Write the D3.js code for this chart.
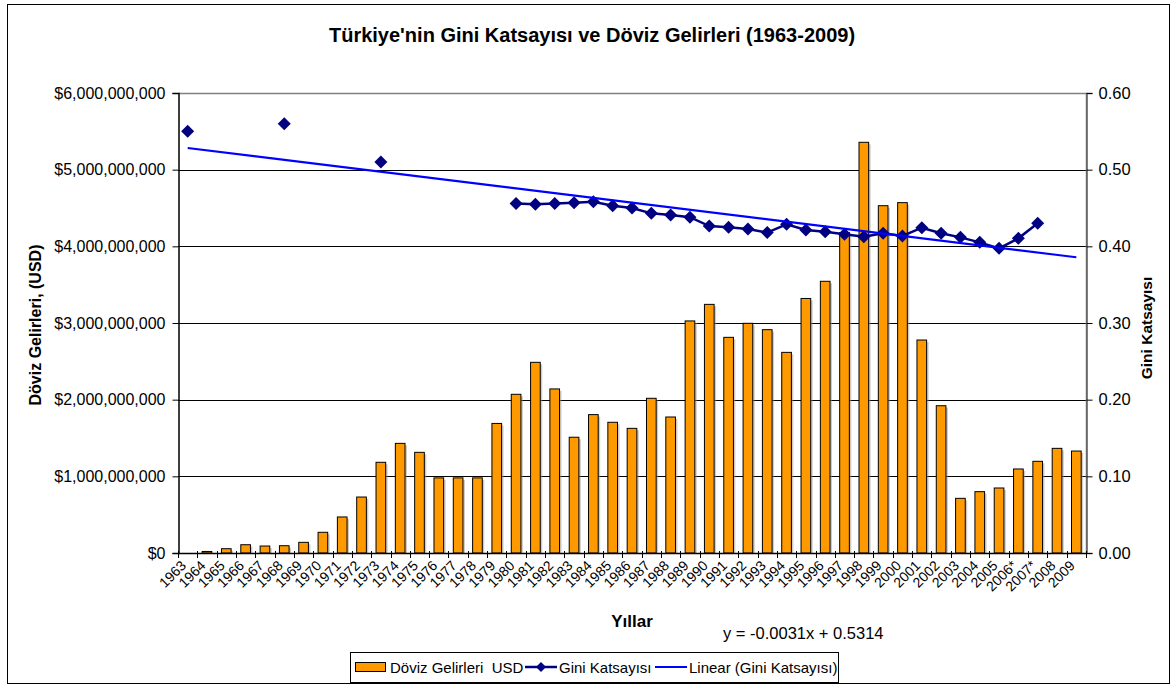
<!DOCTYPE html>
<html>
<head>
<meta charset="utf-8">
<script src="https://cdn.jsdelivr.net/npm/d3@7"></script>
<style>
  body { margin: 0; background: #fff; }
  text { font-family: "Liberation Sans", Arial, sans-serif; fill: #000; }
</style>
</head>
<body>
<script>
var years = ["1963", "1964", "1965", "1966", "1967", "1968", "1969", "1970", "1971", "1972",
    "1973", "1974", "1975", "1976", "1977", "1978", "1979", "1980", "1981", "1982",
    "1983", "1984", "1985", "1986", "1987", "1988", "1989", "1990", "1991", "1992",
    "1993", "1994", "1995", "1996", "1997", "1998", "1999", "2000", "2001", "2002",
    "2003", "2004", "2005", "2006*", "2007*", "2008", "2009"];

// Döviz gelirleri, USD
var doviz = [null, 0.02e9, 0.056e9, 0.108e9, 0.091e9, 0.095e9, 0.139e9, 0.27e9, 0.47e9, 0.73e9,
    1.183e9, 1.43e9, 1.313e9, 0.98e9, 0.98e9, 0.98e9, 1.69e9, 2.07e9, 2.487e9, 2.14e9,
    1.51e9, 1.805e9, 1.705e9, 1.626e9, 2.018e9, 1.774e9, 3.027e9, 3.243e9, 2.813e9, 2.996e9,
    2.913e9, 2.617e9, 3.32e9, 3.544e9, 4.18e9, 5.357e9, 4.53e9, 4.57e9, 2.778e9, 1.921e9,
    0.713e9, 0.8e9, 0.848e9, 1.096e9, 1.196e9, 1.365e9, 1.33e9];

// Gini katsayısı
var gini = [0.55, null, null, null, null, 0.56, null, null, null, null,
    0.51, null, null, null, null, null, null, 0.456, 0.455, 0.456,
    0.457, 0.458, 0.453, 0.45, 0.443, 0.441, 0.438, 0.4265, 0.425, 0.4226,
    0.418, 0.4287, 0.4213, 0.419, 0.4157, 0.4126, 0.417, 0.4135, 0.4243, 0.417,
    0.4117, 0.4052, 0.3974, 0.4104, 0.43, null, null];

// trend line shown on the chart
var trendSlope = -0.0031, trendIntercept = 0.5314;

var leftTicks = [0, 1e9, 2e9, 3e9, 4e9, 5e9, 6e9];
var rightTicks = [0, 0.1, 0.2, 0.3, 0.4, 0.5, 0.6];

var width = 1175, height = 686,
    pL = 178, pR = 1086, pT = 93, pB = 553;

var svg = d3.select("body").append("svg")
    .attr("width", width)
    .attr("height", height);

// outer border
svg.append("rect")
    .attr("x", 7.5).attr("y", 4.5)
    .attr("width", 1162).attr("height", 679)
    .attr("fill", "none")
    .attr("stroke", "#000");

var x = d3.scaleBand()
    .domain(years)
    .range([pL, pR])
    .paddingInner(0.5)
    .paddingOuter(0.25);

var step = x.step();
function cx(d) { return x(d) + x.bandwidth() / 2; }

var yL = d3.scaleLinear().domain([0, 6e9]).range([pB, pT]);
var yR = d3.scaleLinear().domain([0, 0.6]).range([pB, pT]);

// gridlines
svg.append("g").selectAll("line")
    .data(leftTicks.slice(1, -1))
    .enter().append("line")
    .attr("x1", pL).attr("x2", pR)
    .attr("y1", function(d) { return Math.round(yL(d)) + 0.5; })
    .attr("y2", function(d) { return Math.round(yL(d)) + 0.5; })
    .attr("stroke", "#000")
    .attr("stroke-width", 1);

// plot border top / right
svg.append("path")
    .attr("d", "M" + pL + "," + (pT + 0.5) + "H" + (pR + 0.5) + "V" + pB)
    .attr("fill", "none")
    .attr("stroke", "#808080")
    .attr("stroke-width", 1.5);

// bars
var barData = years.map(function(y, i) { return {year: y, v: doviz[i]}; })
    .filter(function(d) { return d.v != null; });

svg.append("g").selectAll("rect")
    .data(barData)
    .enter().append("rect")
    .attr("x", function(d) { return x(d.year) + 2; })
    .attr("y", function(d) { return yL(d.v) + 2; })
    .attr("width", x.bandwidth())
    .attr("height", function(d) { return Math.max(0, pB - yL(d.v) - 2); })
    .attr("fill", "#999")
    .attr("opacity", 0.5);

svg.append("g").selectAll("rect")
    .data(barData)
    .enter().append("rect")
    .attr("x", function(d) { return x(d.year); })
    .attr("y", function(d) { return yL(d.v); })
    .attr("width", x.bandwidth())
    .attr("height", function(d) { return pB - yL(d.v); })
    .attr("fill", "#FF9900")
    .attr("stroke", "#000")
    .attr("stroke-width", 1);

// left axis
var axL = svg.append("g")
    .attr("transform", "translate(" + (pL + 0.5) + ",0)")
    .call(d3.axisLeft(yL).tickValues(leftTicks).tickSize(6).tickPadding(7)
        .tickFormat(function(d) { return "$" + d3.format(",.0f")(d); }));
axL.select(".domain").attr("stroke", "#000").attr("stroke-width", 1.5);
axL.selectAll("text").style("font-size", "16px").style("font-family", "Liberation Sans, Arial");

// right axis
var axR = svg.append("g")
    .attr("transform", "translate(" + (pR + 0.5) + ",0)")
    .call(d3.axisRight(yR).tickValues(rightTicks).tickSize(6).tickPadding(6)
        .tickFormat(d3.format(".2f")));
axR.select(".domain").attr("stroke", "#606060").attr("stroke-width", 1.5);
axR.selectAll("text").style("font-size", "16.5px").style("font-family", "Liberation Sans, Arial");

// x axis
svg.append("line")
    .attr("x1", pL).attr("x2", pR)
    .attr("y1", pB + 0.5).attr("y2", pB + 0.5)
    .attr("stroke", "#000").attr("stroke-width", 1.5);

svg.append("g").selectAll("line")
    .data(d3.range(years.length + 1))
    .enter().append("line")
    .attr("x1", function(i) { return Math.round(pL + i * step) + 0.5; })
    .attr("x2", function(i) { return Math.round(pL + i * step) + 0.5; })
    .attr("y1", pB - 2).attr("y2", pB + 5)
    .attr("stroke", "#000");

svg.append("g").selectAll("text")
    .data(years)
    .enter().append("text")
    .attr("transform", function(d) { return "translate(" + (cx(d) - 4) + "," + (pB + 10) + ") rotate(-45)"; })
    .attr("text-anchor", "end")
    .attr("dy", "0.35em")
    .style("font-size", "14px")
    .text(function(d) { return d; });

// trend line
var trendX = [1, years.length];
var trendLine = d3.line()
    .x(function(n) { return cx(years[n - 1]); })
    .y(function(n) { return yR(trendSlope * n + trendIntercept); });

// gini line
var giniData = years.map(function(y, i) { return {year: y, v: gini[i]}; });
var line = d3.line()
    .defined(function(d) { return d.v != null; })
    .x(function(d) { return cx(d.year); })
    .y(function(d) { return yR(d.v); });

svg.append("path")
    .datum(giniData)
    .attr("d", line)
    .attr("fill", "none")
    .attr("stroke", "#000080")
    .attr("stroke-width", 2.5);

svg.append("g").selectAll("path")
    .data(giniData.filter(function(d) { return d.v != null; }))
    .enter().append("path")
    .attr("transform", function(d) { return "translate(" + cx(d.year) + "," + yR(d.v) + ")"; })
    .attr("d", "M0,-6.5L6.5,0L0,6.5L-6.5,0Z")
    .attr("fill", "#000080");

svg.append("path")
    .datum(trendX)
    .attr("d", trendLine)
    .attr("fill", "none")
    .attr("stroke", "#0000FF")
    .attr("stroke-width", 2);

// titles
svg.append("text")
    .attr("x", 592).attr("y", 42)
    .attr("text-anchor", "middle")
    .style("font-size", "20px").style("font-weight", "bold")
    .text("Türkiye'nin Gini Katsayısı ve Döviz Gelirleri (1963-2009)");

svg.append("text")
    .attr("transform", "translate(41,325) rotate(-90)")
    .attr("text-anchor", "middle")
    .style("font-size", "16px").style("font-weight", "bold")
    .text("Döviz Gelirleri, (USD)");

svg.append("text")
    .attr("transform", "translate(1152,328) rotate(-90)")
    .attr("text-anchor", "middle")
    .style("font-size", "15.5px").style("font-weight", "bold")
    .text("Gini Katsayısı");

svg.append("text")
    .attr("x", 632).attr("y", 627)
    .attr("text-anchor", "middle")
    .style("font-size", "17px").style("font-weight", "bold")
    .text("Yıllar");

svg.append("text")
    .attr("x", 723).attr("y", 639)
    .style("font-size", "16.5px")
    .text("y = " + trendSlope.toFixed(4) + "x + " + trendIntercept.toFixed(4));

// legend
var lg = svg.append("g");
lg.append("rect")
    .attr("x", 350.5).attr("y", 652.5)
    .attr("width", 488).attr("height", 30)
    .attr("fill", "#fff").attr("stroke", "#000");

lg.append("rect")
    .attr("x", 355.5).attr("y", 662.5)
    .attr("width", 30).attr("height", 9)
    .attr("fill", "#FF9900").attr("stroke", "#000");
lg.append("text").attr("x", 390).attr("y", 673)
    .style("font-size", "15px").text("Döviz Gelirleri\u00a0\u00a0USD");

lg.append("line").attr("x1", 525).attr("x2", 557).attr("y1", 667).attr("y2", 667)
    .attr("stroke", "#000080").attr("stroke-width", 2.5);
lg.append("path").attr("transform", "translate(541,667)")
    .attr("d", "M0,-5L5,0L0,5L-5,0Z").attr("fill", "#000080");
lg.append("text").attr("x", 559).attr("y", 673)
    .style("font-size", "15px").text("Gini Katsayısı");

lg.append("line").attr("x1", 655).attr("x2", 687).attr("y1", 667).attr("y2", 667)
    .attr("stroke", "#0000FF").attr("stroke-width", 2);
lg.append("text").attr("x", 689).attr("y", 673)
    .style("font-size", "15px").text("Linear (Gini Katsayısı)");
</script>
</body>
</html>
